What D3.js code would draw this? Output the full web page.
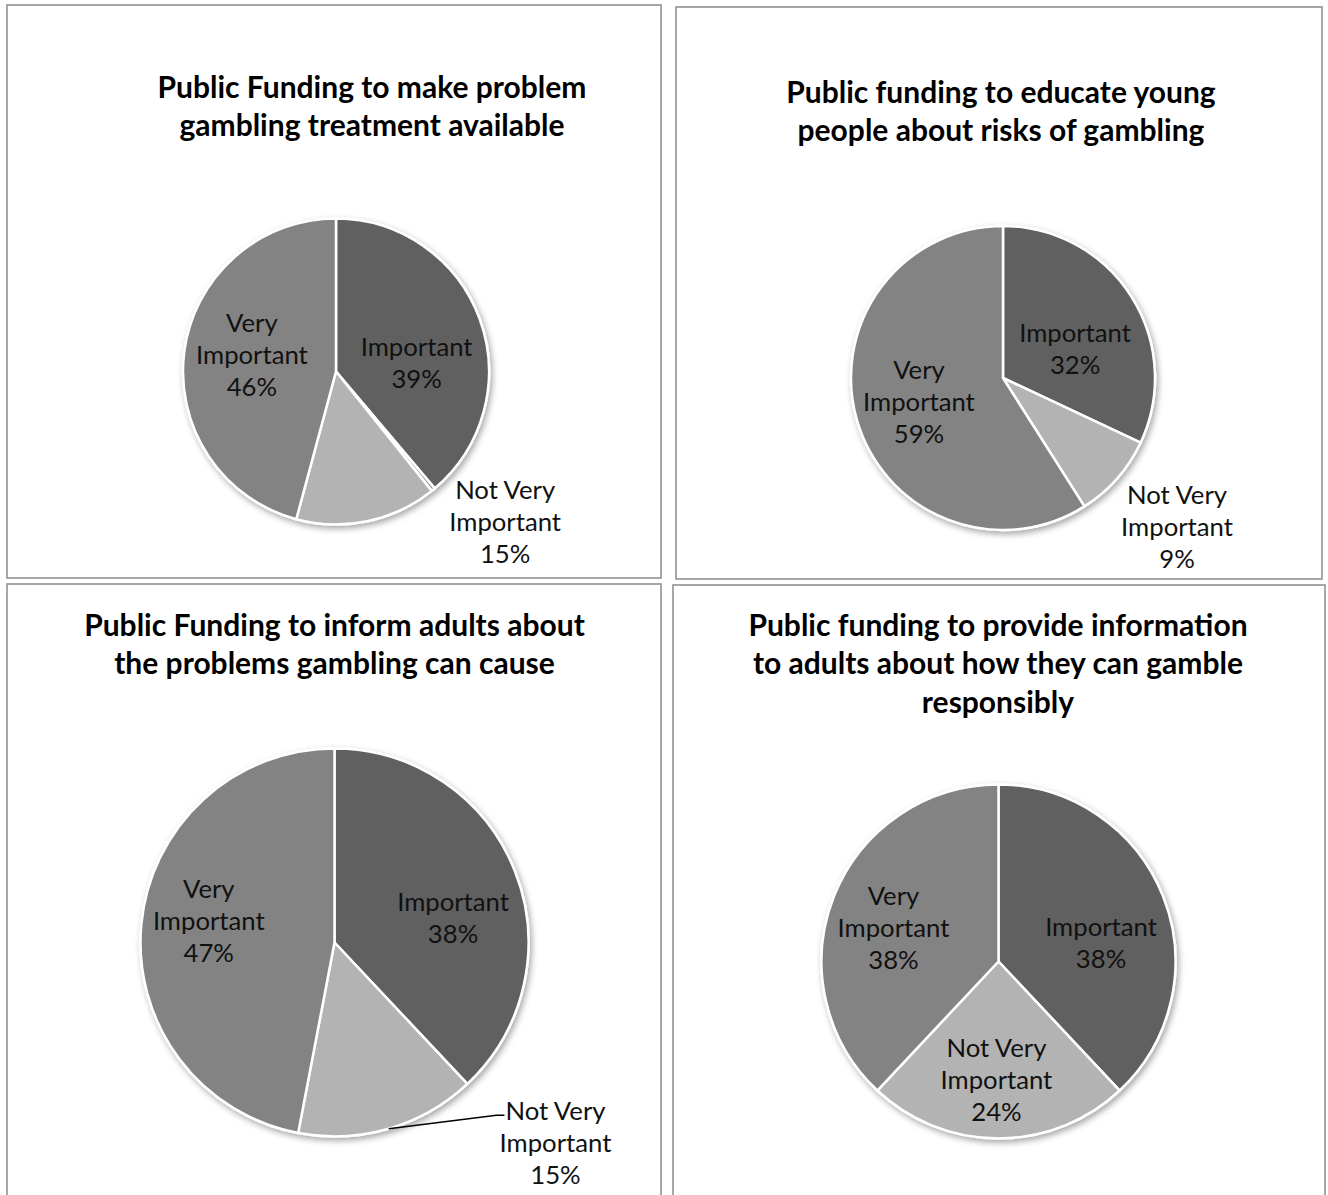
<!DOCTYPE html>
<html lang="en">
<head>
    <meta charset="UTF-8">
    <title>Public Funding Pie Charts</title>
    <script src="https://d3js.org/d3.v7.min.js"></script>
    <style>
        body { margin: 0; background: #fff; }
        .title { font-family: 'Lato', sans-serif; font-weight: bold; font-size: 30px; fill: #000; }
        .label { font-family: 'Lato', sans-serif; font-size: 25.7px; fill: #111; }
    </style>
</head>
<body>
<script>
    // categories in drawing order (clockwise from 12 o'clock)
    const categories = ["Important", "Not Important", "Not Very Important", "Very Important"];
    const labelLines = [["Important"], [], ["Not Very", "Important"], ["Very", "Important"]];
    const colors = ["#606060", "#8e8e8e", "#b3b3b3", "#838383"];

    // values per chart (percent)
    const treatmentValues = [39, 0.4, 15, 46];
    const youngPeopleValues = [32, 0, 9, 59];
    const informAdultsValues = [38, 0, 15, 47];
    const responsiblyValues = [38, 0, 24, 38];

    const titles = [
        ["Public Funding to make problem", "gambling treatment available"],
        ["Public funding to educate young", "people about risks of gambling"],
        ["Public Funding to inform adults about", "the problems gambling can cause"],
        ["Public funding to provide information", "to adults about how they can gamble", "responsibly"]
    ];
    const allValues = [treatmentValues, youngPeopleValues, informAdultsValues, responsiblyValues];

    // layout: panel box, pie centre/radius, title position
    const layout = [
        {box: [7, 5, 654, 573], cx: 336, cy: 371.5, r: 153, tx: 372, ty: 97.6},
        {box: [676, 7, 646, 572], cx: 1003, cy: 378, r: 152, tx: 1001, ty: 102.6},
        {box: [7, 584, 654, 640], cx: 334.5, cy: 942.5, r: 194, tx: 334.5, ty: 635.8},
        {box: [673, 585, 652, 640], cx: 998.5, cy: 961.5, r: 177, tx: 998, ty: 635.8}
    ];
    // label placement: [angle shift in degrees, distance as fraction of radius] per category
    const labelPlace = [
        [[14, 0.53], null, [-36.5, 1.48], [3.5, 0.56]],
        [[10.8, 0.51], null, [-0.7, 1.51], [0, 0.576]],
        [[9.9, 0.624], null, [-31.5, 1.54], [4, 0.657]],
        [[11.7, 0.588], null, [1, 0.67], [-3.9, 0.623]]
    ];
    const leaderLines = [false, false, true, false];

    const svg = d3.select("body").append("svg")
        .attr("width", 1328)
        .attr("height", 1195);

    const defs = svg.append("defs");
    defs.append("filter")
        .attr("id", "shadow")
        .attr("x", "-20%").attr("y", "-20%")
        .attr("width", "140%").attr("height", "140%")
        .append("feDropShadow")
        .attr("dx", 2).attr("dy", 3)
        .attr("stdDeviation", 3)
        .attr("flood-color", "#000")
        .attr("flood-opacity", 0.35);

    const pie = d3.pie().sort(null).value(d => d.value);
    const lineHeight = 32;

    allValues.forEach(function (values, ci) {
        const L = layout[ci];

        // panel border
        svg.append("rect")
            .attr("x", L.box[0]).attr("y", L.box[1])
            .attr("width", L.box[2]).attr("height", L.box[3])
            .attr("fill", "none")
            .attr("stroke", "#8a8a8a")
            .attr("stroke-width", 1.5);

        // title
        const title = svg.append("text")
            .attr("class", "title")
            .attr("text-anchor", "middle")
            .attr("x", L.tx)
            .attr("y", L.ty);
        titles[ci].forEach(function (t, i) {
            title.append("tspan")
                .attr("x", L.tx)
                .attr("dy", i === 0 ? 0 : 38.5)
                .text(t);
        });

        const data = categories.map((c, i) => ({name: c, value: values[i], idx: i}))
            .filter(d => d.value > 0);
        const total = d3.sum(data, d => d.value);
        const arcs = pie(data);
        const arc = d3.arc().innerRadius(0).outerRadius(L.r);

        const g = svg.append("g")
            .attr("transform", `translate(${L.cx},${L.cy})`);

        g.append("g")
            .attr("filter", "url(#shadow)")
            .selectAll("path")
            .data(arcs)
            .enter().append("path")
            .attr("d", arc)
            .attr("fill", d => colors[d.data.idx])
            .attr("stroke", "#fff")
            .attr("stroke-width", 2.5)
            .attr("stroke-linejoin", "round");

        // labels
        arcs.forEach(function (d) {
            const place = labelPlace[ci][d.data.idx];
            if (!place) return;
            const mid = (d.startAngle + d.endAngle) / 2;
            const a = mid + place[0] * Math.PI / 180;
            const x = Math.sin(a) * place[1] * L.r;
            const y = -Math.cos(a) * place[1] * L.r;
            const lines = labelLines[d.data.idx].concat([Math.round(d.data.value / total * 100) + "%"]);
            const n = lines.length;
            const firstBase = y + 8.8 - (n - 1) * lineHeight / 2;

            const text = g.append("text")
                .attr("class", "label")
                .attr("text-anchor", "middle")
                .attr("x", x)
                .attr("y", firstBase);
            lines.forEach(function (t, i) {
                text.append("tspan")
                    .attr("x", x)
                    .attr("dy", i === 0 ? 0 : lineHeight)
                    .text(t);
            });

            // leader line only for labels placed outside the pie
            if (leaderLines[ci] && place[1] > 1) {
                const first = text.select("tspan").node().getBBox();
                const sx = Math.sin(mid) * L.r, sy = -Math.cos(mid) * L.r;
                g.append("path")
                    .attr("d", d3.line()([[sx, sy], [first.x - 9, firstBase - 5], [first.x - 1, firstBase - 5]]))
                    .attr("fill", "none")
                    .attr("stroke", "#000")
                    .attr("stroke-width", 1.5);
            }
        });
    });
</script>
</body>
</html>
